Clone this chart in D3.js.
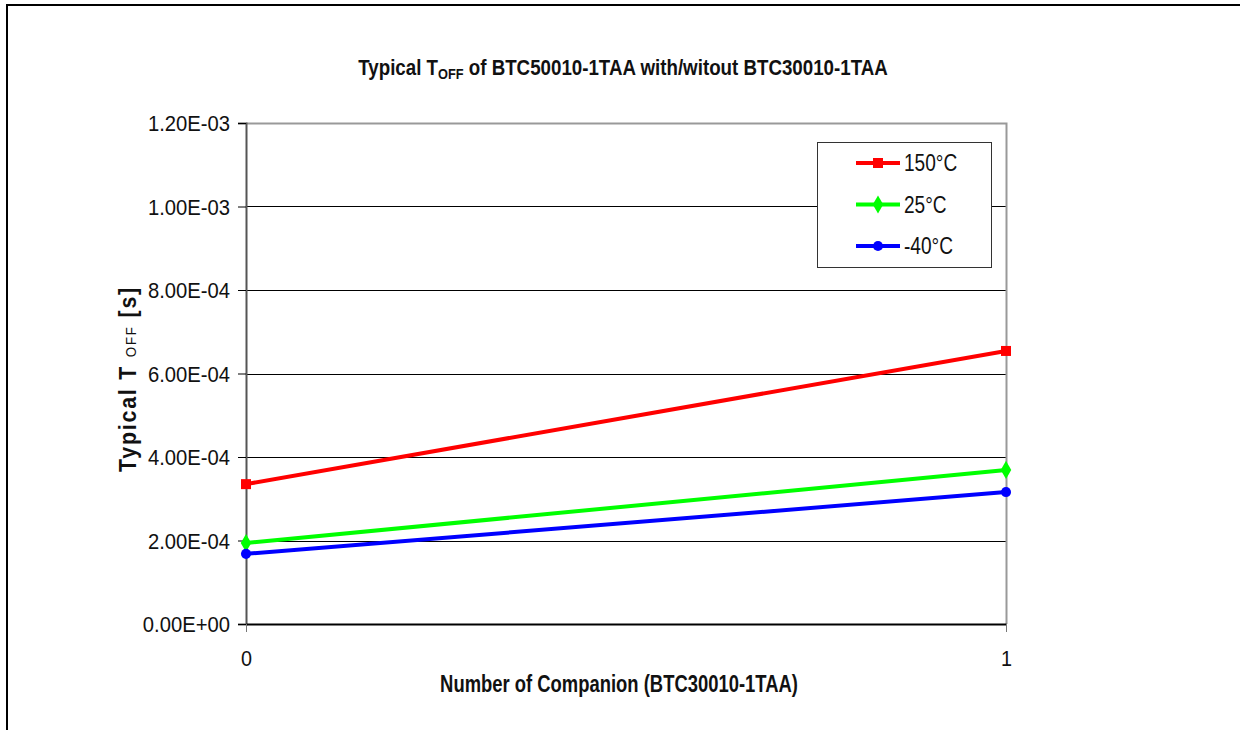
<!doctype html>
<html lang="en">
<head>
  <meta charset="utf-8" />
  <title>Typical TOFF</title>
  <script src="https://d3js.org/d3.v7.min.js"></script>
  <style>
    body { margin: 0; background: #fff; }
    text { font-family: "Liberation Sans", Arial, sans-serif; }
  </style>
</head>
<body>
<script type="text/javascript">

  // data
  var companions = [0, 1];
  var seriesNames = ["150°C", "25°C", "-40°C"];
  var hot = [3.35e-4, 6.54e-4];
  var room = [1.94e-4, 3.69e-4];
  var cold = [1.68e-4, 3.16e-4];
  var yTicks = [0, 2e-4, 4e-4, 6e-4, 8e-4, 1e-3, 1.2e-3];

  var colors = ["#ff0000", "#00ff00", "#0000ff"];
  var symbols = [d3.symbolSquare, d3.symbolDiamond, d3.symbolCircle];
  var symSize = [100, 95, 80];
  var values = [hot, room, cold];

  var width = 1240, height = 730;
  var plot = {left: 246, right: 1006, top: 123, bottom: 624};

  var svg = d3.select("body").append("svg")
    .attr("width", width)
    .attr("height", height);

  // squeeze a text horizontally so it reads like the narrow font of the original
  function fitText(sel, w, tr) {
    var bw = sel.node().getBBox().width;
    sel.attr("transform", tr + " scale(" + (w / bw) + ",1)");
  }

  // outer frame
  svg.append("path")
    .attr("d", "M7," + height + "V5H" + width)
    .attr("fill", "none")
    .attr("stroke", "#000")
    .attr("stroke-width", 2);

  var x = d3.scaleLinear().domain([0, 1]).range([plot.left, plot.right]);
  var y = d3.scaleLinear().domain([0, 1.2e-3]).range([plot.bottom, plot.top]);

  function fmt(v) {
    if (v === 0) return "0.00E+00";
    var m = v.toExponential(2).toUpperCase().split("E");
    var e = +m[1];
    return m[0] + "E" + (e < 0 ? "-" : "+") + (Math.abs(e) < 10 ? "0" : "") + Math.abs(e);
  }

  // gridlines
  svg.append("g")
    .selectAll("line")
    .data(yTicks.slice(1, -1))
    .enter().append("line")
    .attr("x1", plot.left).attr("x2", plot.right)
    .attr("y1", function(d) { return Math.round(y(d)) + 0.5; })
    .attr("y2", function(d) { return Math.round(y(d)) + 0.5; })
    .attr("stroke", "#000");

  // plot area border (top / right)
  svg.append("path")
    .attr("d", "M" + plot.left + "," + (plot.top + 0.5) + "H" + (plot.right + 0.5) + "V" + plot.bottom)
    .attr("fill", "none")
    .attr("stroke", "#999")
    .attr("stroke-width", 2);

  var yAxis = d3.axisLeft(y).tickValues(yTicks).tickFormat(fmt).tickSize(8);
  var gy = svg.append("g")
    .attr("transform", "translate(" + plot.left + ",0)")
    .call(yAxis);
  gy.select(".domain").attr("stroke", "#555").attr("stroke-width", 2);
  gy.selectAll(".tick line").attr("stroke", "#000");
  gy.selectAll("text")
    .attr("x", 0)
    .attr("dy", "0.36em")
    .attr("transform", "translate(-16,0) scale(0.92,1)")
    .attr("font-size", 22).attr("fill", "#111")
    .attr("font-family", "'Liberation Sans', Arial, sans-serif");

  var xAxis = d3.axisBottom(x).tickValues(companions).tickFormat(d3.format("d")).tickSize(8).tickSizeOuter(0);
  var gx = svg.append("g")
    .attr("transform", "translate(0," + plot.bottom + ")")
    .call(xAxis);
  gx.select(".domain").attr("stroke", "#000").attr("stroke-width", 2);
  gx.selectAll(".tick line").attr("stroke", "#777");
  gx.selectAll("text")
    .attr("y", 0)
    .attr("dy", "0.71em")
    .attr("transform", "translate(0,26) scale(0.9,1)")
    .attr("font-size", 22).attr("fill", "#111")
    .attr("font-family", "'Liberation Sans', Arial, sans-serif");

  // series
  var line = d3.line()
    .x(function(d, i) { return x(companions[i]); })
    .y(function(d) { return y(d); });

  values.forEach(function(vals, k) {
    svg.append("path")
      .datum(vals)
      .attr("d", line)
      .attr("fill", "none")
      .attr("stroke", colors[k])
      .attr("stroke-width", 4);
    svg.append("g")
      .selectAll("path")
      .data(vals)
      .enter().append("path")
      .attr("transform", function(d, i) { return "translate(" + x(companions[i]) + "," + y(d) + ")"; })
      .attr("d", d3.symbol().type(symbols[k]).size(symSize[k]))
      .attr("fill", colors[k]);
  });

  // legend
  var legend = svg.append("g").attr("transform", "translate(817,142)");
  legend.append("rect")
    .attr("x", 0.5).attr("y", 0.5)
    .attr("width", 174).attr("height", 125)
    .attr("fill", "#fff")
    .attr("stroke", "#333");
  seriesNames.forEach(function(name, k) {
    var ly = 21 + k * 41.5;
    legend.append("line")
      .attr("x1", 39).attr("x2", 83)
      .attr("y1", ly).attr("y2", ly)
      .attr("stroke", colors[k])
      .attr("stroke-width", 4);
    legend.append("path")
      .attr("transform", "translate(61," + ly + ")")
      .attr("d", d3.symbol().type(symbols[k]).size(symSize[k]))
      .attr("fill", colors[k]);
    legend.append("text")
      .attr("transform", "translate(87," + (ly + 8) + ") scale(0.83,1)")
      .attr("font-size", 23)
      .attr("fill", "#111")
      .text(name);
  });

  // title
  var title = svg.append("text")
    .attr("text-anchor", "middle")
    .attr("font-weight", "bold")
    .attr("font-size", 22)
    .attr("fill", "#111");
  title.append("tspan").text("Typical T");
  title.append("tspan").attr("font-size", 15).attr("dy", 4).text("OFF");
  title.append("tspan").attr("dy", -4).text(" of BTC50010-1TAA with/witout BTC30010-1TAA");
  fitText(title, 530, "translate(623,75)");

  // axis titles
  var xt = svg.append("text")
    .attr("text-anchor", "middle")
    .attr("font-weight", "bold")
    .attr("font-size", 23)
    .attr("fill", "#111")
    .text("Number of Companion (BTC30010-1TAA)");
  fitText(xt, 358, "translate(619,692)");

  var yt = svg.append("text")
    .attr("text-anchor", "middle")
    .attr("font-weight", "bold")
    .attr("font-size", 24)
    .attr("letter-spacing", 2)
    .attr("fill", "#111");
  yt.append("tspan").text("Typical T ");
  yt.append("tspan").attr("font-size", 15).attr("font-weight", "normal").text("OFF");
  yt.append("tspan").text(" [s]");
  fitText(yt, 186, "translate(136,379) rotate(-90)");

</script>
</body>
</html>
